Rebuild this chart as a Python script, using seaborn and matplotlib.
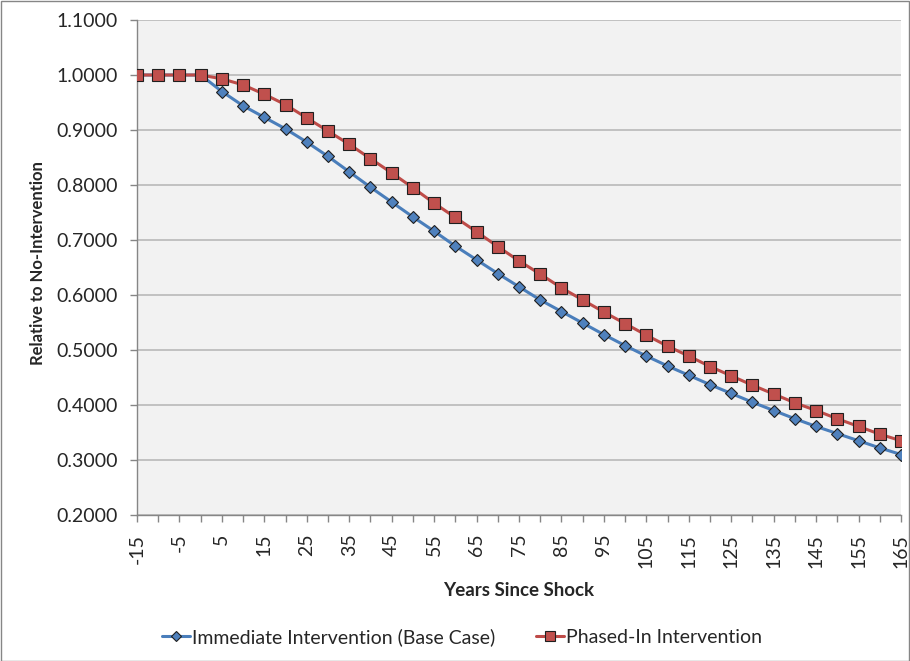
import matplotlib
matplotlib.use('Agg')
import matplotlib.pyplot as plt
import matplotlib.patches as mpatches
import seaborn as sns
import numpy as np
import pandas as pd

# --- Data ---
years = list(range(-15, 170, 5))
immediate = [1.000, 1.000, 1.000, 1.000, 0.970, 0.944, 0.923, 0.902, 0.878, 0.852,
             0.824, 0.796, 0.769, 0.742, 0.716, 0.689, 0.664, 0.639, 0.615, 0.591,
             0.570, 0.549, 0.528, 0.508, 0.489, 0.471, 0.454, 0.437, 0.421, 0.405,
             0.390, 0.375, 0.361, 0.348, 0.335, 0.322, 0.310]
phased = [1.000, 1.000, 1.000, 1.000, 0.993, 0.982, 0.965, 0.946, 0.922, 0.898,
          0.874, 0.848, 0.822, 0.795, 0.767, 0.741, 0.715, 0.688, 0.662, 0.638,
          0.613, 0.591, 0.569, 0.548, 0.527, 0.507, 0.489, 0.470, 0.453, 0.436,
          0.420, 0.404, 0.390, 0.375, 0.361, 0.347, 0.335]
series_names = ['Immediate Intervention (Base Case)', 'Phased-In Intervention']
y_ticks = [0.2, 0.3, 0.4, 0.5, 0.6, 0.7, 0.8, 0.9, 1.0, 1.1]

# --- Styling ---
sns.set_style('white')
plt.rcParams['font.family'] = ['Lato', 'DejaVu Sans']
FS = 14

fig = plt.figure(figsize=(9.1, 6.61), dpi=100)
ax = fig.add_axes([137 / 910, 1 - 515 / 661, (901 - 137) / 910, (515 - 20) / 661])
ax.set_facecolor('#F2F2F2')

df_imm = pd.DataFrame({'year': years, 'value': immediate})
df_ph = pd.DataFrame({'year': years, 'value': phased})

sns.lineplot(data=df_imm, x='year', y='value', ax=ax, color='#4A7EBB', lw=2.2,
             marker='D', markersize=6.5, markerfacecolor='#4F81BD',
             markeredgecolor='#1F1F1F', markeredgewidth=0.8, zorder=3)
sns.lineplot(data=df_ph, x='year', y='value', ax=ax, color='#BE4B48', lw=2.2,
             marker='s', markersize=8, markerfacecolor='#C0504D',
             markeredgecolor='#1F1F1F', markeredgewidth=0.8, zorder=4)

# axes
ax.set_xlim(years[0], years[-1])
ax.set_ylim(0.2, 1.1)
ax.set_yticks(y_ticks)
ax.set_yticklabels([f'{v:.4f}' for v in y_ticks], fontsize=FS)
ax.set_xticks(years, minor=True)
ax.set_xticks(years[::2])
ax.set_xticklabels([str(y) for y in years[::2]], rotation=90, fontsize=FS)
ax.tick_params(axis='y', which='major', direction='out', length=5, width=1,
               color='#868686', pad=9, left=True)
ax.tick_params(axis='x', which='both', direction='out', length=5, width=1,
               color='#868686', pad=8.5, bottom=True)
ax.yaxis.grid(True, color='#BDBDBD', lw=1.3)
ax.xaxis.grid(False)
for s in ['top', 'right']:
    ax.spines[s].set_visible(False)
for s in ['left', 'bottom']:
    ax.spines[s].set_color('#868686')
    ax.spines[s].set_linewidth(1)

ax.set_xlabel('')
ax.set_ylabel('')
fig.text(38 / 910, 1 - 263 / 661, 'Relative to No-Intervention', fontsize=12,
         fontweight='bold', rotation=90, ha='center', va='center')
fig.text(519 / 910, 1 - 591 / 661, 'Years Since Shock', fontsize=13.5,
         fontweight='bold', ha='center', va='center')

# legend
handles = [
    plt.Line2D([], [], color='#4A7EBB', lw=2.2, marker='D', markersize=5.5,
               markerfacecolor='#4F81BD', markeredgecolor='#1F1F1F', markeredgewidth=0.8),
    plt.Line2D([], [], color='#BE4B48', lw=2.2, marker='s', markersize=6.5,
               markerfacecolor='#C0504D', markeredgecolor='#1F1F1F', markeredgewidth=0.8),
]
fig.legend(handles, series_names, loc='center', bbox_to_anchor=(462 / 910, 1 - 637 / 661),
           ncol=2, frameon=False, fontsize=FS, handlelength=1.45, handletextpad=0.1,
           columnspacing=2.1)

# outer chart border
fig.patches.append(mpatches.Rectangle((0.5 / 910, 0.5 / 661), 1 - 1.5 / 910, 1 - 1.5 / 661,
                                      transform=fig.transFigure, fill=False,
                                      edgecolor='#868686', lw=1))

fig.savefig('out.png', dpi=100)
